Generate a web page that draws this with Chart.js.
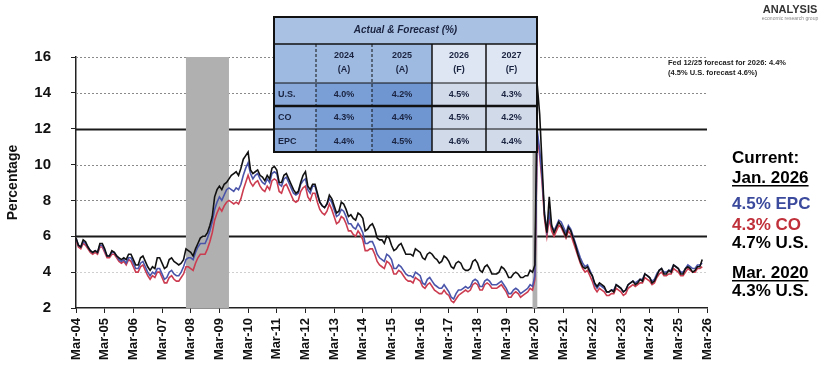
<!DOCTYPE html>
<html><head><meta charset="utf-8">
<script src="https://cdn.jsdelivr.net/npm/chart.js@4/dist/chart.umd.min.js"></script>
<style>html,body{margin:0;padding:0;background:#fff}#wrap{width:827px;height:392px;position:relative}</style>
</head><body><div id="wrap"><canvas id="c" width="827" height="392"></canvas></div>
<script>
// ---- data (monthly, Mar-2004 .. Jan-2026; x = month index from Mar-04) ----
const xTickLabels = ['Mar-04','Mar-05','Mar-06','Mar-07','Mar-08','Mar-09','Mar-10','Mar-11','Mar-12','Mar-13','Mar-14','Mar-15','Mar-16','Mar-17','Mar-18','Mar-19','Mar-20','Mar-21','Mar-22','Mar-23','Mar-24','Mar-25','Mar-26'];
const yTickValues = [2,4,6,8,10,12,14,16];
const usRate = [
 5.9,5.5,5.4,5.8,5.7,5.4,5.2,5.1,5.2,5.1,
 5.6,5.6,5.3,4.9,4.9,5.2,5.1,4.9,4.8,4.7,4.8,4.7,
 5.0,5.0,4.7,4.4,4.4,4.8,4.9,4.6,4.3,4.1,4.3,4.2,
 4.8,4.8,4.5,4.2,4.3,4.7,4.8,4.6,4.5,4.4,4.5,4.7,
 5.3,5.2,5.1,4.9,5.3,5.6,5.9,6.0,6.0,6.2,6.6,7.1,
 8.2,8.6,8.8,8.6,8.9,9.0,9.2,9.4,9.5,9.6,9.4,9.8,
 10.3,10.5,10.7,9.7,9.5,9.6,9.7,9.4,9.3,9.1,9.4,9.2,
 9.8,9.9,9.7,9.0,9.0,9.4,9.5,9.2,8.9,8.6,8.4,8.5,
 9.0,9.4,9.6,8.8,8.6,8.9,8.9,8.4,7.9,7.7,7.6,7.8,
 8.3,8.1,7.7,7.3,7.4,7.9,7.8,7.5,7.1,7.2,7.0,6.9,
 7.3,7.2,7.0,6.3,6.4,6.6,6.7,6.4,5.9,5.8,5.8,5.6,
 6.0,5.9,5.5,5.2,5.3,5.5,5.6,5.3,5.0,5.0,5.0,4.9,
 5.3,5.2,5.1,4.8,4.7,5.0,5.1,5.0,4.8,4.7,4.5,4.6,
 4.9,4.8,4.6,4.3,4.2,4.5,4.6,4.5,4.2,4.1,4.1,4.2,
 4.6,4.7,4.5,4.1,4.0,4.3,4.4,4.2,3.9,3.9,3.9,4.0,
 4.3,4.2,4.0,3.7,3.7,3.9,4.0,3.9,3.7,3.7,3.8,3.8,
 4.1,4.0,4.4,14.4,12.8,10.0,7.2,6.2,8.2,6.6,6.2,6.5,
 6.8,6.6,6.3,6.0,6.5,6.3,5.9,5.5,5.0,4.6,4.3,4.2,
 4.3,4.0,3.8,3.4,3.2,3.4,3.3,3.2,2.9,2.9,3.0,2.9,
 3.3,3.2,3.1,2.9,3.0,3.3,3.4,3.5,3.3,3.4,3.6,3.5,
 3.9,3.8,3.7,3.4,3.5,3.8,4.1,4.2,3.9,3.9,4.1,4.0,
 4.4,4.3,4.2,3.9,3.9,4.2,4.3,4.2,4.0,4.1,4.3,4.3,
 4.7
];
const coRate = [
 5.8,5.4,5.3,5.6,5.5,5.3,5.1,5.0,5.1,5.0,
 5.4,5.4,5.1,4.8,4.8,5.0,5.0,4.8,4.6,4.5,4.6,4.4,
 4.7,4.6,4.3,4.0,4.0,4.3,4.4,4.1,3.8,3.6,3.8,3.7,
 4.0,4.0,3.7,3.4,3.4,3.7,3.8,3.6,3.5,3.5,3.7,3.9,
 4.3,4.3,4.2,4.1,4.5,4.8,5.0,5.0,5.0,5.3,5.7,6.2,
 6.9,7.3,7.6,7.4,7.7,7.9,8.0,7.9,7.8,7.9,7.8,8.1,
 8.6,9.0,9.4,9.0,8.8,9.0,9.1,8.8,8.6,8.5,8.8,8.6,
 9.1,9.2,9.1,8.5,8.4,8.8,8.9,8.6,8.3,8.0,7.9,8.0,
 8.5,8.7,8.8,8.2,8.0,8.4,8.4,7.9,7.5,7.3,7.2,7.4,
 7.8,7.5,7.1,6.7,6.8,7.1,7.0,6.7,6.3,6.3,6.1,6.0,
 6.3,6.1,5.8,5.2,5.2,5.3,5.3,5.0,4.6,4.4,4.3,4.2,
 4.6,4.5,4.3,3.9,3.9,4.1,4.0,3.8,3.6,3.5,3.5,3.4,
 3.7,3.6,3.5,3.2,3.1,3.3,3.4,3.2,3.0,2.9,2.8,2.8,
 3.0,2.8,2.7,2.4,2.3,2.5,2.7,2.8,2.9,3.0,2.9,3.0,
 3.3,3.4,3.3,3.0,3.0,3.3,3.4,3.3,3.1,3.1,3.1,3.2,
 3.3,3.1,2.9,2.6,2.6,2.8,2.9,2.8,2.6,2.7,2.8,2.9,
 3.1,3.0,3.6,11.6,10.5,9.0,7.0,6.0,7.0,6.3,6.0,6.3,
 6.6,6.5,6.2,5.9,6.3,6.1,5.7,5.3,4.9,4.5,4.2,4.0,
 4.1,3.8,3.5,3.1,2.9,3.1,3.0,2.9,2.7,2.7,2.8,2.8,
 3.1,3.0,2.9,2.7,2.8,3.1,3.2,3.3,3.2,3.3,3.4,3.4,
 3.7,3.6,3.5,3.3,3.4,3.7,3.9,4.0,3.8,3.8,3.9,3.9,
 4.2,4.1,4.0,3.8,3.8,4.0,4.2,4.1,4.0,4.0,4.2,4.2,
 4.3
];
const epcRate = [
 5.9,5.5,5.4,5.7,5.6,5.4,5.2,5.1,5.2,5.1,
 5.5,5.5,5.2,4.9,4.9,5.1,5.1,4.9,4.7,4.6,4.7,4.5,
 4.8,4.8,4.5,4.2,4.2,4.5,4.6,4.3,4.0,3.8,4.0,3.9,
 4.2,4.2,3.9,3.6,3.7,4.0,4.1,3.9,3.8,3.8,4.0,4.3,
 4.7,4.8,4.8,4.7,5.1,5.4,5.6,5.6,5.6,5.9,6.3,6.8,
 7.5,7.9,8.2,8.0,8.3,8.6,8.7,8.6,8.5,8.7,8.6,8.9,
 9.4,9.8,10.1,9.5,9.2,9.4,9.5,9.2,9.0,8.9,9.2,9.0,
 9.5,9.6,9.5,8.9,8.8,9.2,9.3,9.0,8.7,8.4,8.3,8.4,
 8.9,9.1,9.2,8.6,8.4,8.8,8.8,8.3,7.9,7.7,7.6,7.8,
 8.1,7.9,7.5,7.1,7.2,7.5,7.4,7.1,6.7,6.7,6.5,6.4,
 6.7,6.5,6.2,5.6,5.6,5.7,5.7,5.4,5.0,4.8,4.7,4.6,
 5.0,4.9,4.7,4.2,4.2,4.4,4.3,4.1,3.9,3.8,3.8,3.7,
 4.0,3.9,3.8,3.4,3.3,3.6,3.7,3.5,3.3,3.2,3.1,3.1,
 3.3,3.1,2.9,2.6,2.5,2.8,3.0,3.0,3.1,3.2,3.1,3.2,
 3.5,3.6,3.5,3.2,3.2,3.5,3.6,3.5,3.3,3.3,3.3,3.4,
 3.5,3.3,3.1,2.8,2.8,3.0,3.1,3.0,2.8,2.9,3.0,3.1,
 3.3,3.2,3.8,11.9,10.8,9.3,7.3,6.3,7.3,6.6,6.3,6.6,
 6.9,6.8,6.5,6.2,6.6,6.4,6.0,5.6,5.2,4.8,4.5,4.3,
 4.4,4.1,3.8,3.3,3.1,3.3,3.2,3.1,2.9,2.9,3.0,3.0,
 3.3,3.2,3.1,2.9,3.0,3.3,3.4,3.5,3.4,3.5,3.6,3.6,
 3.9,3.8,3.7,3.5,3.6,3.9,4.1,4.2,4.0,4.0,4.1,4.1,
 4.4,4.3,4.2,4.0,4.0,4.2,4.4,4.3,4.2,4.2,4.4,4.4,
 4.5
];
const recessionSpans = [[46, 64], [191, 193]];
const tableTitle = 'Actual & Forecast (%)';
const tableYears = ['2024', '2025', '2026', '2027'];
const tableKinds = ['(A)', '(A)', '(F)', '(F)'];
const tableRowNames = ['U.S.', 'CO', 'EPC'];
const tableUS = ['4.0%', '4.2%', '4.5%', '4.3%'];
const tableCO = ['4.3%', '4.4%', '4.5%', '4.2%'];
const tableEPC = ['4.4%', '4.5%', '4.6%', '4.4%'];
const sideNotes = [
  ['Current:', '#000', false], ['Jan. 2026', '#000', true], ['4.5% EPC', '#3b4a9c', false],
  ['4.3% CO', '#c0303a', false], ['4.7% U.S.', '#000', false], ['Mar. 2020', '#000', true], ['4.3% U.S.', '#000', false]
];
const forecastNote = ['Fed 12/25 forecast for 2026: 4.4%', '(4.5% U.S. forecast 4.6%)'];

const toPts = arr => arr.map((v, i) => ({x: i, y: v}));
const FONT = "'Liberation Sans', Arial, sans-serif";

const bgPlugin = {
  id: 'bg',
  beforeDatasetsDraw(chart) {
    const {ctx, chartArea: a, scales: {x, y}} = chart;
    ctx.save();
    yTickValues.forEach(v => {
      if (v === 2) return;
      const py = Math.round(y.getPixelForValue(v)) + 0.5;
      ctx.beginPath();
      if (v === 12 || v === 6) { ctx.strokeStyle = '#1a1a1a'; ctx.lineWidth = 2; ctx.setLineDash([]); }
      else if (v === 4) { ctx.strokeStyle = '#cfcfcf'; ctx.lineWidth = 1; ctx.setLineDash([2, 2]); }
      else { ctx.strokeStyle = '#8a8a8a'; ctx.lineWidth = 1; ctx.setLineDash([2, 2]); }
      ctx.moveTo(a.left, py); ctx.lineTo(a.right, py); ctx.stroke();
    });
    ctx.setLineDash([]);
    ctx.fillStyle = '#b0b0b0';
    recessionSpans.forEach(([s, e]) => {
      const x0 = x.getPixelForValue(s), x1 = x.getPixelForValue(e);
      const yt = y.getPixelForValue(16), yb = y.getPixelForValue(2);
      ctx.fillRect(x0, yt, x1 - x0, yb - yt);
    });
    ctx.restore();
  },
  afterDraw(chart) {
    const ctx = chart.ctx;
    ctx.save();
    // ---- table ----
    const xs = [274, 316, 372, 432, 486, 537];
    const ys = [17, 44, 83, 105, 129, 152];
    ctx.fillStyle = '#a9c1e3';
    ctx.fillRect(xs[0], ys[0], xs[5] - xs[0], ys[1] - ys[0]);
    const hdr = ['#9fbae0', '#9fbae0', '#9fbae0', '#dde6f2', '#dde6f2'];
    const body = ['#88a9da', '#7a9fd6', '#6f96d0', '#d0dae9', '#d0dae9'];
    for (let c = 0; c < 5; c++) {
      ctx.fillStyle = hdr[c];
      ctx.fillRect(xs[c], ys[1], xs[c + 1] - xs[c], ys[2] - ys[1]);
      ctx.fillStyle = body[c];
      ctx.fillRect(xs[c], ys[2], xs[c + 1] - xs[c], ys[5] - ys[2]);
    }
    ctx.strokeStyle = '#111';
    const hl = (yy, w) => { ctx.lineWidth = w; ctx.beginPath(); ctx.moveTo(xs[0], yy); ctx.lineTo(xs[5], yy); ctx.stroke(); };
    hl(ys[1], 1.5); hl(ys[2], 1); hl(ys[3] + 1, 2.5); hl(ys[4], 1);
    const vl = (xx, w, dash) => { ctx.lineWidth = w; ctx.setLineDash(dash); ctx.beginPath(); ctx.moveTo(xx, ys[1]); ctx.lineTo(xx, ys[5]); ctx.stroke(); ctx.setLineDash([]); };
    vl(xs[1], 1, [3, 2]); vl(xs[2], 1, [3, 2]); vl(xs[3], 1.5, []); vl(xs[4], 1.5, []);
    ctx.lineWidth = 2;
    ctx.strokeRect(xs[0], ys[0], xs[5] - xs[0], ys[5] - ys[0]);
    ctx.fillStyle = '#1a2340';
    ctx.textAlign = 'center'; ctx.textBaseline = 'middle';
    ctx.font = 'italic bold 10px ' + FONT;
    ctx.fillText(tableTitle, (xs[0] + xs[5]) / 2, (ys[0] + ys[1]) / 2);
    ctx.font = 'bold 9px ' + FONT;
    for (let c = 0; c < 4; c++) {
      const cx = (xs[c + 1] + xs[c + 2]) / 2;
      ctx.fillText(tableYears[c], cx, ys[1] + 12);
      ctx.fillText(tableKinds[c], cx, ys[1] + 26);
    }
    const rows = [tableUS, tableCO, tableEPC];
    rows.forEach((r, ri) => {
      const cy = (ys[ri + 2] + ys[ri + 3]) / 2 + 1;
      ctx.textAlign = 'left';
      ctx.fillText(tableRowNames[ri], xs[0] + 4, cy);
      ctx.textAlign = 'center';
      r.forEach((v, c) => ctx.fillText(v, (xs[c + 1] + xs[c + 2]) / 2, cy));
    });
    // ---- forecast note ----
    ctx.textAlign = 'left'; ctx.textBaseline = 'alphabetic';
    ctx.fillStyle = '#222';
    ctx.font = 'bold 7.5px ' + FONT;
    ctx.fillText(forecastNote[0], 668, 65);
    ctx.fillText(forecastNote[1], 668, 75);
    // ---- logo ----
    ctx.textAlign = 'center';
    ctx.font = 'bold 11px ' + FONT;
    ctx.fillStyle = '#333';
    ctx.fillText('ANALYSIS', 790, 13);
    ctx.font = '5px ' + FONT; ctx.fillStyle = '#888';
    ctx.fillText('economic research group', 790, 20);
    // ---- side notes ----
    ctx.textAlign = 'left';
    ctx.font = 'bold 17px ' + FONT;
    const baselines = [163, 183, 209, 230, 248, 278, 296];
    sideNotes.forEach(([t, col, ul], i) => {
      ctx.fillStyle = col;
      ctx.fillText(t, 732, baselines[i]);
      if (ul) {
        const w = ctx.measureText(t).width;
        ctx.fillRect(732, baselines[i] + 2, w, 1.5);
      }
    });
    ctx.restore();
  }
};

new Chart(document.getElementById('c'), {
  type: 'line',
  data: {
    datasets: [
      {label: 'U.S.', data: toPts(usRate), borderColor: '#111111', borderWidth: 1.6, pointRadius: 0, tension: 0},
      {label: 'EPC', data: toPts(epcRate), borderColor: '#4a55aa', borderWidth: 1.6, pointRadius: 0, tension: 0},
      {label: 'CO', data: toPts(coRate), borderColor: '#cc3c50', borderWidth: 1.6, pointRadius: 0, tension: 0}
    ]
  },
  options: {
    responsive: false, animation: false, devicePixelRatio: 1,
    layout: {padding: {top: 57, right: 120, left: 0, bottom: 0}},
    plugins: {legend: {display: false}, tooltip: {enabled: false}},
    scales: {
      x: {
        type: 'linear', min: 0, max: 264,
        afterFit(s) { s.height = 84; s.paddingLeft = 0; s.paddingRight = 0; },
        ticks: {
          stepSize: 12, autoSkip: false, maxRotation: 90, minRotation: 90, padding: 5,
          color: '#111', font: {family: FONT, size: 13, weight: 'bold'},
          callback: v => xTickLabels[Math.round(v / 12)] || ''
        },
        grid: {drawOnChartArea: false, drawTicks: true, tickLength: 5, color: '#222'},
        border: {color: '#222', width: 1.5}
      },
      y: {
        min: 2, max: 16,
        afterFit(s) { s.width = 76; s.paddingTop = 0; s.paddingBottom = 0; },
        ticks: {stepSize: 2, padding: 20, color: '#111', font: {family: FONT, size: 15, weight: 'bold'}},
        grid: {drawOnChartArea: false, drawTicks: true, tickLength: 5, color: '#222'},
        border: {color: '#222', width: 1.5},
        title: {display: true, text: 'Percentage', color: '#111', font: {family: FONT, size: 14, weight: 'bold'}, padding: {top: 5, bottom: 0}}
      }
    }
  },
  plugins: [bgPlugin]
});
</script>
</body></html>
